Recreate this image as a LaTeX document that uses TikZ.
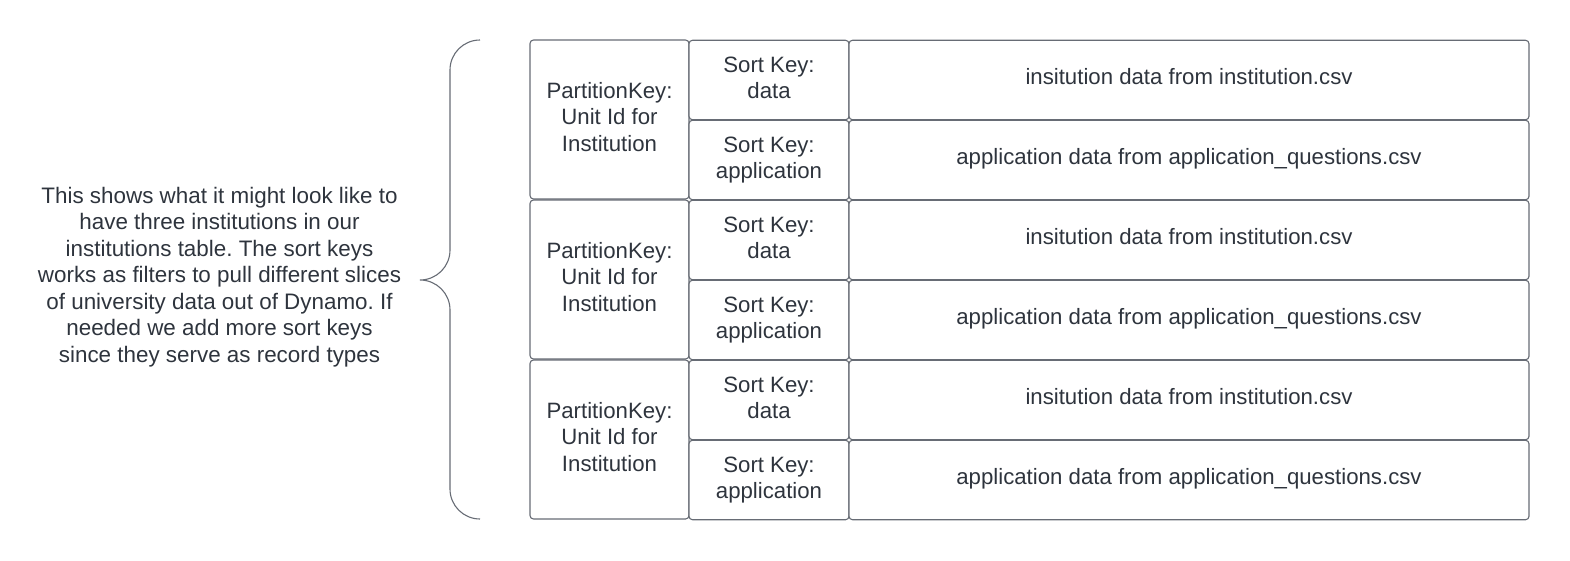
\documentclass[tikz,border=0pt]{standalone}
\usepackage{fontspec}
\setmainfont{Liberation Sans}
\frenchspacing
\definecolor{ink}{HTML}{2E343D}
\definecolor{edge}{HTML}{676C75}
\tikzset{
  cell/.style={draw=edge, line width=1.1pt, rounded corners=3.5pt, fill=white,
    inner sep=0pt, outer sep=0pt, text=ink, align=center,
    font=\fontsize{22.2}{26.5}\selectfont},
  pkbox/.style={cell, minimum width=159pt, minimum height=159pt},
  skbox/.style={cell, minimum width=160pt, minimum height=79.5pt},
  databox/.style={cell, minimum width=680pt, minimum height=79.5pt},
  brace/.style={draw=edge, line width=1.1pt},
  note/.style={text=ink, align=center, font=\fontsize{22.4}{26.5}\selectfont}
}
\begin{document}
\begin{tikzpicture}[x=1pt,y=-1pt]
\useasboundingbox (0,0) rectangle (1570,560);

% three partitions, each with a data row and an application row
\foreach \i/\top in {1/40,2/200,3/360}{
  \node[pkbox] (pk\i) at (609.5,\top+79.5) {\raisebox{11pt}{\begin{tabular}{@{}c@{}}PartitionKey:\\Unit Id for\\Institution\end{tabular}}};
  \node[skbox] (skd\i) at (769,\top+40) {\raisebox{-2.5pt}{\begin{tabular}{@{}c@{}}Sort Key:\\data\end{tabular}}};
  \node[skbox] (ska\i) at (769,\top+120) {\raisebox{-2.5pt}{\begin{tabular}{@{}c@{}}Sort Key:\\application\end{tabular}}};
  \node[databox] (dd\i) at (1189,\top+40) {\raisebox{7pt}{insitution data from institution.csv}};
  \node[databox] (da\i) at (1189,\top+120) {\raisebox{7pt}{application data from application\_questions.csv}};
}

% curly brace grouping the table
\draw[brace] (480,40) .. controls (463.4,40) and (450,53.4) .. (450,70)
  -- (450,250) .. controls (450,266.6) and (436.6,280) .. (420,280)
  .. controls (436.6,280) and (450,293.4) .. (450,310)
  -- (450,489) .. controls (450,505.6) and (463.4,519) .. (480,519);

\node[note] (desc) at (219.5,277) {This shows what it might look like to\\
have three institutions in our\\
institutions table. The sort keys\\
works as filters to pull different slices\\
of university data out of Dynamo. If\\
needed we add more sort keys\\
since they serve as record types};
\end{tikzpicture}
\end{document}
